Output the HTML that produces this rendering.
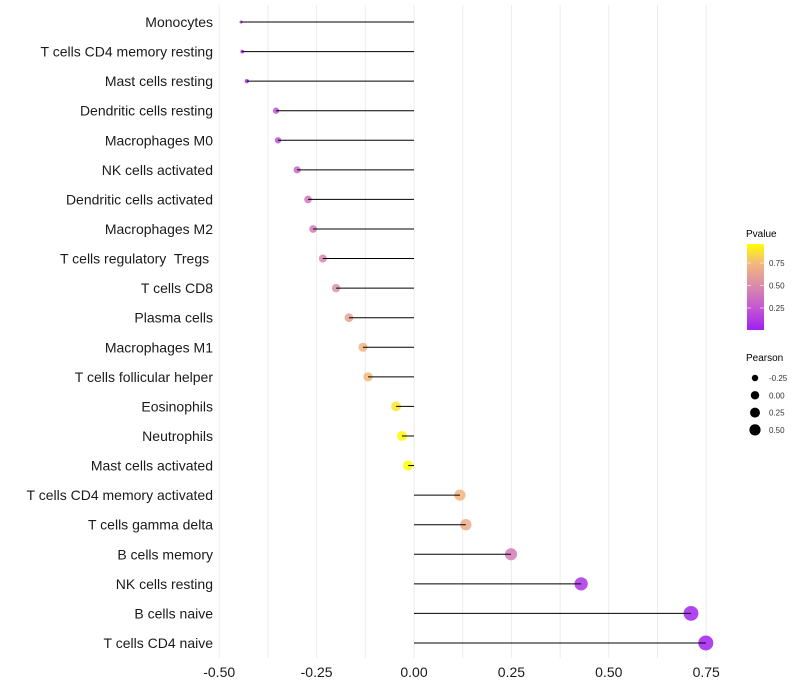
<!DOCTYPE html>
<html><head><meta charset="utf-8"><style>
body{margin:0;background:#fff;}
svg{display:block;font-family:"Liberation Sans",Arial,sans-serif;}
text{white-space:pre;}
</style></head><body>
<svg id="chart" width="800" height="700">
<g id="grid"></g>
<g id="marks"></g>
<g id="ylabels"></g>
<g id="xlabels"></g>
<g id="legend"></g>
</svg>
<script>
const categories = ["Monocytes","T cells CD4 memory resting","Mast cells resting","Dendritic cells resting","Macrophages M0","NK cells activated","Dendritic cells activated","Macrophages M2","T cells regulatory  Tregs ","T cells CD8","Plasma cells","Macrophages M1","T cells follicular helper","Eosinophils","Neutrophils","Mast cells activated","T cells CD4 memory activated","T cells gamma delta","B cells memory","NK cells resting","B cells naive","T cells CD4 naive"];
const pearson = [-0.444,-0.441,-0.429,-0.354,-0.349,-0.300,-0.272,-0.259,-0.234,-0.200,-0.167,-0.131,-0.118,-0.046,-0.031,-0.015,0.118,0.133,0.249,0.429,0.711,0.749];
const pvalue = [0.02,0.02,0.05,0.22,0.22,0.32,0.38,0.42,0.47,0.53,0.62,0.72,0.74,0.88,0.94,0.96,0.72,0.68,0.42,0.08,0.02,0.01];
const xTicks = [-0.5,-0.25,0,0.25,0.5,0.75];
const xTickLabels = ["-0.50","-0.25","0.00","0.25","0.50","0.75"];
const pTicks = [0.25,0.5,0.75];
const sizeLegend = [-0.25,0,0.25,0.5];

const NS="http://www.w3.org/2000/svg";
const x = v => 414 + v*389.6;
const y = i => 22 + i*29.57;
const pMin=Math.min(...pearson), pMax=Math.max(...pearson);
const r = v => { const t=Math.max(0,(v-pMin)/(pMax-pMin)); return 1.5+6*Math.sqrt(t); };
const stops=[[0,[160,32,240]],[0.25,[196,88,210]],[0.5,[218,140,170]],[0.75,[244,186,122]],[0.96,[255,255,0]]];
function col(p){
  for(let k=1;k<stops.length;k++){
    if(p<=stops[k][0]||k==stops.length-1){
      const a=stops[k-1],b=stops[k];let t=(p-a[0])/(b[0]-a[0]);t=Math.max(0,Math.min(1,t));
      const c=a[1].map((v,j)=>Math.round(v+(b[1][j]-v)*t));return `rgb(${c})`;}
  }
}
function el(tag,attrs,parent){const e=document.createElementNS(NS,tag);for(const k in attrs)e.setAttribute(k,attrs[k]);parent.appendChild(e);return e;}
const G=document.getElementById('grid'),M=document.getElementById('marks'),YL=document.getElementById('ylabels'),XL=document.getElementById('xlabels'),L=document.getElementById('legend');
for(let v=-0.5;v<=0.751;v+=0.125){
  const g=el('line',{x1:x(v),x2:x(v),y1:5,y2:658,stroke:'#ebebeb','stroke-width':1},G);
  
  
}
categories.forEach((c,i)=>{
  const cy=y(i),cx=x(pearson[i]);
  const pt=el('circle',{cx:cx,cy:cy,r:r(pearson[i]),fill:col(pvalue[i]),'fill-opacity':0.85},M);
  
  
  const ln=el('line',{x1:x(0),x2:cx,y1:cy,y2:cy,stroke:'#000','stroke-width':1},M);
  
  
  const t=el('text',{x:213,y:cy+5,'text-anchor':'end','font-size':14,fill:'#1a1a1a'},YL);
  t.textContent=c;
  
  
});
xTicks.forEach((v,i)=>{
  const t=el('text',{x:x(v),y:677,'text-anchor':'middle','font-size':14,fill:'#1a1a1a'},XL);
  t.textContent=xTickLabels[i];
  
  
});
const t1=el('text',{x:746,y:237,'font-size':10,fill:'#000'},L);t1.textContent='Pvalue';


const defs=el('defs',{},L);const lg=el('linearGradient',{id:'pg',x1:0,y1:1,x2:0,y2:0},defs);
stops.forEach(s=>el('stop',{offset:s[0]/0.96,'stop-color':col(s[0])},lg));
const bar=el('rect',{x:747,y:244,width:17,height:86,fill:'url(#pg)'},L);


const py=p=>330.5-p*90;
pTicks.forEach(p=>{
  el('line',{x1:747,x2:751,y1:py(p),y2:py(p),stroke:'#fff','stroke-opacity':0.6},L);
  el('line',{x1:760,x2:764,y1:py(p),y2:py(p),stroke:'#fff','stroke-opacity':0.6},L);
  const t=el('text',{x:769,y:py(p)+3,'font-size':8,fill:'#333'},L);t.textContent=p.toFixed(2);
  
  
});
const t2=el('text',{x:746,y:361,'font-size':10,fill:'#000'},L);t2.textContent='Pearson';


sizeLegend.forEach((v,i)=>{
  const cy=378+i*17.3;
  const c=el('circle',{cx:755,cy:cy,r:r(v)*0.82,fill:'#000'},L);
  
  
  const t=el('text',{x:769,y:cy+3,'font-size':8,fill:'#333'},L);t.textContent=v.toFixed(2);
  
  
});
</script>
</body></html>
